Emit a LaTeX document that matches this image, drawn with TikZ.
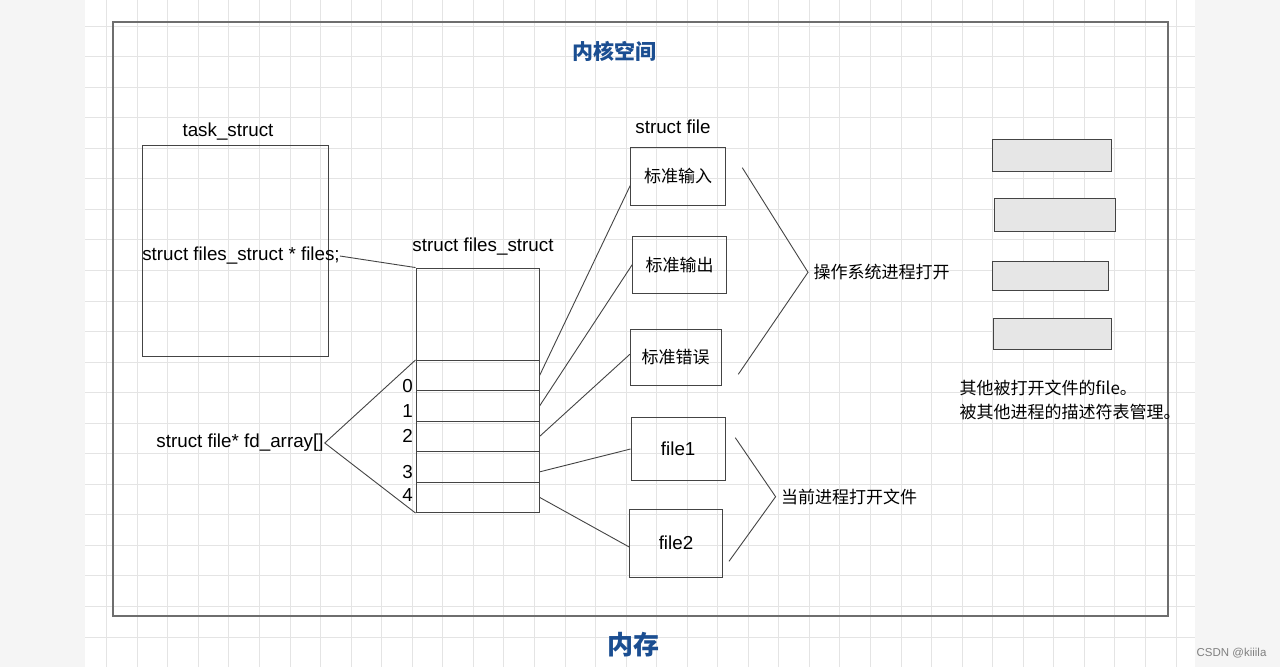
\documentclass[tikz,border=0pt]{standalone}
\usepackage{fontspec}
\setmainfont{Liberation Sans}
\newfontfamily\cjk{Noto Sans CJK SC}
\usetikzlibrary{positioning,calc}
\definecolor{linegray}{RGB}{68,68,68}
\definecolor{outergray}{RGB}{110,110,110}
\definecolor{gridgray}{RGB}{228,228,228}
\definecolor{sheetgray}{RGB}{245,245,245}
\definecolor{boxfill}{RGB}{230,230,230}
\definecolor{titleblue}{RGB}{27,78,145}

\begin{document}
\begin{tikzpicture}[x=1pt,y=-1pt,
  latin/.style={font=\fontsize{18.8}{22}\selectfont, text=black},
  zh/.style={font=\cjk\fontsize{17}{20}\selectfont, text=black},
  plainbox/.style={draw=linegray, line width=1pt, inner sep=0pt},
  graybox/.style={draw=linegray, fill=boxfill, line width=1pt, inner sep=0pt},
  wire/.style={draw=linegray, line width=0.9pt}]
  \useasboundingbox (0,0) rectangle (1280,667);
  % Sheet and grid
  \fill[sheetgray] (0,0) rectangle (1280,667);
  \fill[white] (85,0) rectangle (1195,667);
  \foreach \k in {0,...,35}
    \draw[gridgray, line width=0.9pt] ({106.7+30.55*\k},0) -- ++(0,667);
  \foreach \k in {0,...,20}
    \draw[gridgray, line width=0.9pt] (85,{26+30.55*\k}) -- (1195,{26+30.55*\k});
  % Kernel space frame
  \draw[outergray, line width=1.6pt] (113,22) rectangle (1168,616);
  \node[font=\cjk\bfseries\fontsize{21}{24}\selectfont, text=titleblue] (kernel) at (614,51) {内核空间};
  \node[font=\cjk\bfseries\fontsize{26}{30}\selectfont, text=titleblue] (mem) at (633,645) {内存};
  \node[font=\fontsize{11.5}{13}\selectfont, text=gray] (mark) at (1231.5,653.3) {CSDN @kiiila};

  % task_struct
  \node[plainbox, minimum width=186, minimum height=211] (task) at (235,250.5) {};
  \node[latin] (tasklbl) at (228,132) {task\_struct};
  \node[latin, inner sep=0pt] (ptr) at (241,256) {struct files\_struct * files;};

  % files_struct with fd slots
  \node[latin] (fslbl) at (483,247) {struct files\_struct};
  \node[plainbox, minimum width=123, minimum height=244.5] (fs) at (477.5,390.3) {};
  \foreach \i in {0,...,4}
    \node[plainbox, minimum width=123, minimum height=30.4] (fd\i) at (477.5,{375.7+30.4*\i}) {};
  \foreach \i/\y in {0/386,1/410.7,2/436,3/471.7,4/495.3}
    \node[latin, anchor=east, inner sep=1pt] (idx\i) at (414,\y) {\i};
  \draw[wire] (ptr.east) -- (fs.north west);

  % fd_array
  \node[latin, inner sep=1pt] (fdarr) at (240,443) {struct file* fd\_array[]};
  \draw[wire] (fd0.north west) -- (fdarr.east) -- (fd4.south west);

  % struct file
  \node[latin] (filelbl) at (673,127) {struct file};
  \node[plainbox, zh, minimum width=94.3, minimum height=58] (stdin) at (678,176.3) {标准输入};
  \node[plainbox, zh, minimum width=94, minimum height=57.3] (stdout) at (679.7,264.7) {标准输出};
  \node[plainbox, zh, minimum width=90.7, minimum height=56] (stderr) at (675.7,357.3) {标准错误};
  \node[plainbox, latin, minimum width=94.3, minimum height=62.6] (file1) at (678.2,449) {file1};
  \node[plainbox, latin, minimum width=92.6, minimum height=68] (file2) at (676,543) {file2};
  \draw[wire] (fd0.east) -- ([yshift=-9pt]stdin.west);
  \draw[wire] (fd1.east) -- (stdout.west);
  \draw[wire] (fd2.east) -- ([yshift=3pt]stderr.west);
  \draw[wire] ([yshift=-5pt]fd3.east) -- (file1.west);
  \draw[wire] (fd4.east) -- ([yshift=-4pt]file2.west);

  % Opened by the OS
  \node[zh, anchor=west] (osopen) at (810,272.3) {操作系统进程打开};
  \coordinate (ostop) at (742.3,167.7);
  \coordinate (osbot) at (738.3,374.3);
  \draw[wire] (ostop) -- ([xshift=-2pt]osopen.west) -- (osbot);

  % Opened by this process
  \node[zh, anchor=west] (curopen) at (777.6,496.7) {当前进程打开文件};
  \coordinate (curtop) at (735.3,437.7);
  \coordinate (curbot) at (729,561.3);
  \draw[wire] (curtop) -- ([xshift=-2pt]curopen.west) -- (curbot);

  % Files of other processes
  \node[graybox, minimum width=119.4, minimum height=31.6] (other1) at (1052,155.5) {};
  \node[graybox, minimum width=121.4, minimum height=32.7] (other2) at (1055,214.7) {};
  \node[graybox, minimum width=116, minimum height=29] (other3) at (1050.3,275.8) {};
  \node[graybox, minimum width=118, minimum height=31.4] (other4) at (1052.3,334) {};
  \node[zh, anchor=west, inner sep=0pt] (note1) at (959.3,387.7) {其他被打开文件的file。};
  \node[zh, anchor=west, inner sep=0pt] (note2) at (959.3,412.3) {被其他进程的描述符表管理。};
\end{tikzpicture}
\end{document}
